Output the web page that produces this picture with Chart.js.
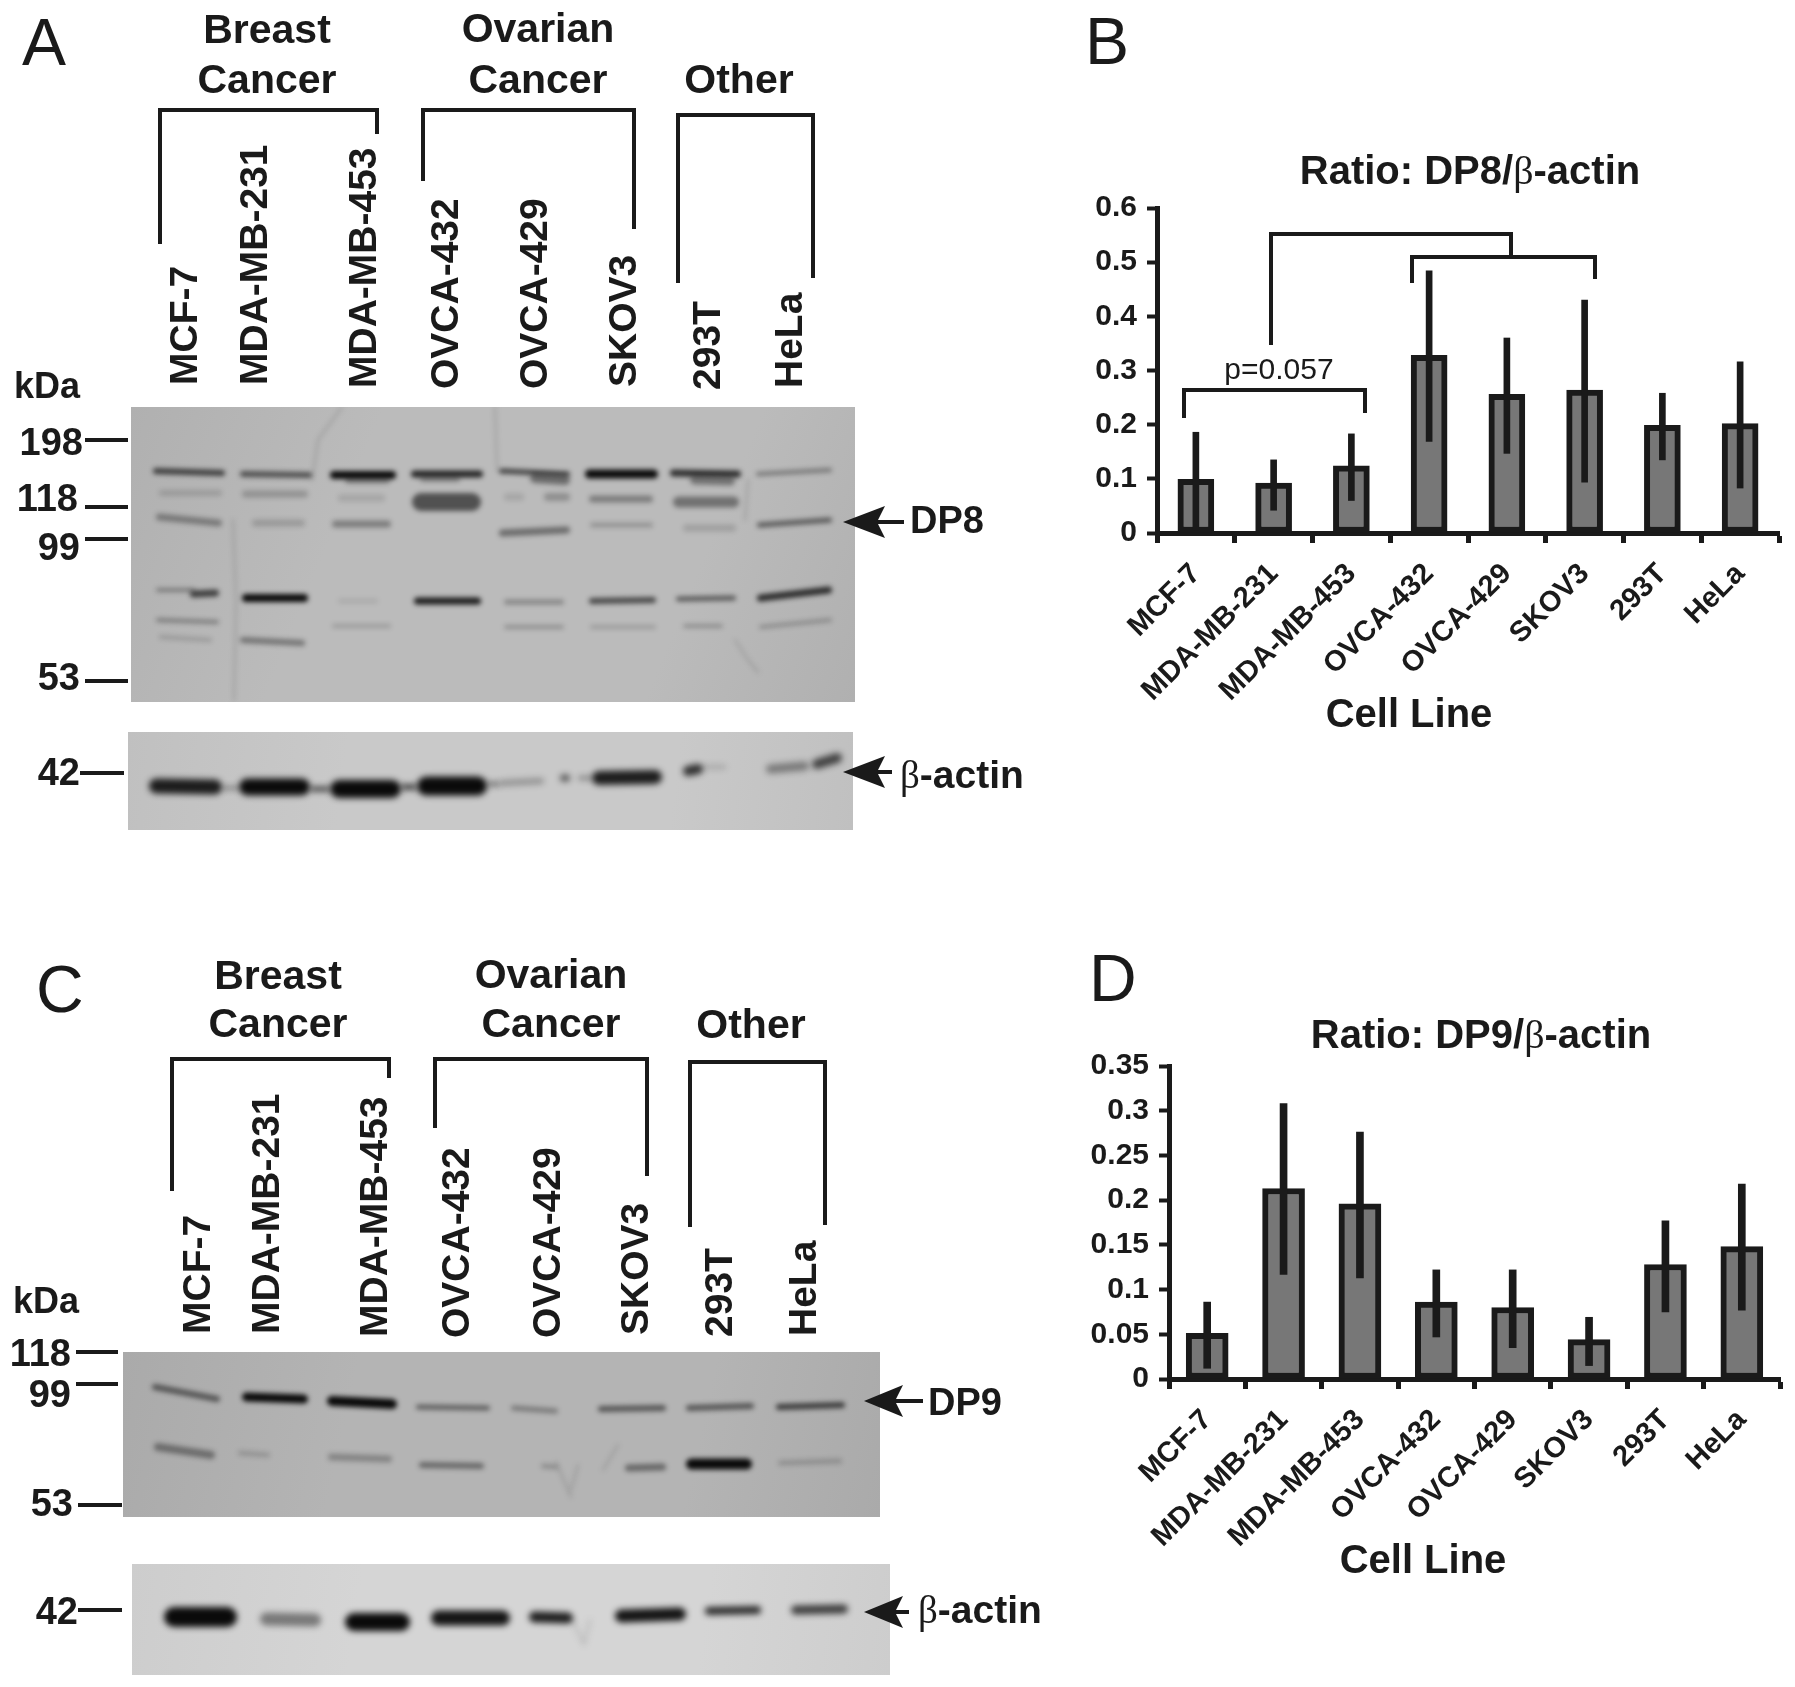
<!DOCTYPE html>
<html>
<head>
<meta charset="utf-8">
<title>DP8 and DP9 in cell lines</title>
<script src="https://cdn.jsdelivr.net/npm/chart.js@4"></script>
<style>
  html, body { margin: 0; padding: 0; background: #fff; }
  #page { position: relative; width: 1795px; height: 1687px; overflow: hidden; }
  #page canvas { position: absolute; }
  .t { position: absolute; white-space: nowrap; line-height: 0; color: #1a1a1a;
       font-family: "Liberation Sans", Arial, sans-serif; font-weight: bold; transform-origin: 0 0; }
  .beta { font-family: "Liberation Serif", serif; font-weight: normal; }
</style>
</head>
<body>
<div id="page">
  <canvas id="blots" width="1795" height="1687" style="left:0;top:0"></canvas>
  <canvas id="chartB" width="755" height="640" style="left:1040px;top:150px"></canvas>
  <canvas id="chartD" width="755" height="687" style="left:1040px;top:1000px"></canvas>
</div>

<script>
// Chart values
const cellLines = ['MCF-7', 'MDA-MB-231', 'MDA-MB-453', 'OVCA-432', 'OVCA-429', 'SKOV3', '293T', 'HeLa'];

const dp8Ratio = [0.099, 0.092, 0.124, 0.328, 0.256, 0.264, 0.199, 0.202];
const dp8ErrTop = [0.186, 0.135, 0.183, 0.484, 0.360, 0.430, 0.258, 0.316];
const dp8ErrBottom = [0.006, 0.042, 0.060, 0.169, 0.147, 0.094, 0.135, 0.083];
const dp8Ticks = ['0', '0.1', '0.2', '0.3', '0.4', '0.5', '0.6'];

const dp9Ratio = [0.051, 0.213, 0.196, 0.086, 0.080, 0.044, 0.128, 0.148];
const dp9ErrTop = [0.086, 0.308, 0.276, 0.122, 0.122, 0.069, 0.177, 0.218];
const dp9ErrBottom = [0.012, 0.117, 0.113, 0.047, 0.035, 0.015, 0.075, 0.077];
const dp9Ticks = ['0', '0.05', '0.1', '0.15', '0.2', '0.25', '0.3', '0.35'];

// Blot bands: x start, x end, y start, y end, thickness, darkness
const bandsDP8 = [
  [153,225,471,473,6,.7],[240,312,474,475,6,.6],[330,396,475,475,8,1],[345,390,480,480,7,.35],[411,483,474,474,7,.85],[420,460,479,479,6,.3],
  [499,570,471,474,5,.7],[530,570,478,480,10,.45],[585,658,474,474,9,1],[670,741,473,474,7,.8],[690,735,480,481,9,.4],[756,832,474,470,4,.4],
  [159,222,493,493,6,.15],[242,308,494,494,7,.22],[338,385,498,498,7,.12],[412,481,502,502,18,.6],[544,570,497,497,8,.25],[504,524,497,497,7,.12],[589,653,499,499,7,.35],[673,739,502,502,11,.42],
  [156,222,517,523,7,.35],[252,305,523,523,7,.18],[332,391,524,524,7,.35],[499,570,533,530,7,.45],[590,653,525,525,5,.22],[683,736,528,528,7,.15],[757,832,525,520,5,.55],
  [156,195,590,590,4,.35],[190,219,594,593,7,.7],[242,308,598,598,8,1],[338,378,601,601,4,.1],[414,481,601,601,7,.9],[504,564,602,602,5,.3],[589,656,601,600,6,.65],[676,736,599,598,5,.55],[757,832,598,590,7,.8],
  [156,219,620,622,4,.35],[332,391,626,626,4,.18],[504,564,627,627,4,.25],[590,656,627,627,4,.18],[683,723,626,626,4,.25],[759,832,627,620,4,.25],
  [159,212,637,640,4,.18],[240,305,640,643,6,.4]
];
const bandsActinA = [
  [149,222,786,787,15,.9],[222,239,788,788,3,.5],[239,310,787,787,17,1],[310,330,789,789,5,.7],[330,401,789,789,18,1],[401,417,787,787,6,.7],[417,487,786,786,19,1],
  [487,500,784,784,5,.45],[500,544,783,781,6,.3],[560,570,778,778,7,.6],[578,592,778,778,4,.4],[592,662,778,777,14,.9],[683,703,771,769,10,.8],[703,726,767,767,4,.2],[766,809,769,766,9,.4],[812,842,764,758,10,.7]
];
const bandsDP9 = [
  [152,220,1387,1399,6,.55],[242,308,1397,1399,9,1],[327,397,1401,1404,10,1],[416,490,1407,1408,5,.5],[511,558,1408,1411,5,.35],[598,666,1409,1408,6,.55],[686,754,1408,1406,6,.55],[776,845,1407,1405,6,.7],
  [154,215,1447,1455,8,.4],[238,270,1453,1455,5,.18],[328,392,1457,1459,7,.28],[419,484,1465,1466,6,.45],[541,558,1466,1467,5,.22],[625,666,1468,1467,7,.45],[686,752,1464,1464,11,1],[778,842,1463,1461,5,.2]
];
const bandsActinC = [
  [164,237,1617,1617,20,1],[260,321,1619,1620,13,.45],[345,410,1622,1622,18,1],[431,510,1618,1618,15,.95],[529,573,1617,1618,11,.9],[615,686,1616,1614,13,.95],[705,761,1611,1610,8,.85],[791,848,1610,1609,9,.75]
];
// faint scratches on the film: x, y pairs
const marksDP8 = [[[342,407],[318,440],[312,480]], [[233,520],[236,600],[234,700]], [[495,407],[497,470]], [[748,480],[745,520]], [[735,640],[748,660],[758,672]]];
const marksDP9 = [[[556,1462],[571,1497]], [[578,1465],[571,1490]], [[603,1470],[618,1445]]];
const marksActinC = [[[572,1620],[584,1644],[590,1620]]];

const ink = '#1a1a1a';
const page = document.getElementById('page');

// Text helper: y is the middle of the capitals because line-height is 0
function addText(html, x, y, size, opts) {
  opts = opts || {};
  const el = document.createElement('div');
  el.className = 't';
  el.innerHTML = html;
  el.style.left = x + 'px';
  el.style.top = y + 'px';
  el.style.fontSize = size + 'px';
  if (opts.regular) el.style.fontWeight = 'normal';
  if (opts.rotate) el.style.transform = 'rotate(-90deg)';
  if (opts.center) el.style.transform = 'translateX(-50%)';
  if (opts.right) el.style.transform = 'translateX(-100%)';
  page.appendChild(el);
}

function drawGel(ctx, box, base, edge, bands, blur, marks) {
  const [x0, x1, y0, y1] = box;
  ctx.save();
  ctx.beginPath();
  ctx.rect(x0, y0, x1 - x0, y1 - y0);
  ctx.clip();
  const g = ctx.createLinearGradient(x0, y0, x1, y1);
  g.addColorStop(0, edge);
  g.addColorStop(0.3, base);
  g.addColorStop(0.75, base);
  g.addColorStop(1, edge);
  ctx.fillStyle = g;
  ctx.fillRect(x0, y0, x1 - x0, y1 - y0);
  ctx.filter = 'blur(' + blur + 'px)';
  ctx.lineCap = 'round';
  (marks || []).forEach(m => {
    ctx.strokeStyle = 'rgba(70,70,70,0.25)';
    ctx.lineWidth = 2;
    ctx.beginPath();
    m.forEach((p, i) => i ? ctx.lineTo(p[0], p[1]) : ctx.moveTo(p[0], p[1]));
    ctx.stroke();
  });
  bands.forEach(b => {
    const inset = b[4] / 2;
    ctx.strokeStyle = 'rgba(10,10,10,' + b[5] + ')';
    ctx.lineWidth = b[4];
    ctx.beginPath();
    ctx.moveTo(b[0] + inset, b[2]);
    ctx.lineTo(b[1] - inset, b[3]);
    ctx.stroke();
  });
  ctx.restore();
}

function drawLines(ctx, pts, width) {
  ctx.strokeStyle = ink;
  ctx.lineWidth = width;
  ctx.beginPath();
  pts.forEach((p, i) => i ? ctx.lineTo(p[0], p[1]) : ctx.moveTo(p[0], p[1]));
  ctx.stroke();
}

function drawBracket(ctx, x0, x1, top, leftEnd, rightEnd, width) {
  drawLines(ctx, [[x0, leftEnd], [x0, top], [x1, top], [x1, rightEnd]], width);
}

function drawArrow(ctx, tip, head, tail, y) {
  drawLines(ctx, [[head - 8, y], [tail, y]], 4);
  ctx.fillStyle = ink;
  ctx.beginPath();
  ctx.moveTo(tip, y);
  ctx.lineTo(head, y - 16);
  ctx.lineTo(head - 8, y);
  ctx.lineTo(head, y + 16);
  ctx.closePath();
  ctx.fill();
}

function drawBlotPanels() {
  const ctx = document.getElementById('blots').getContext('2d');

  drawGel(ctx, [131, 855, 407, 702], '#bbbbbb', '#b0b0b0', bandsDP8, 2.6, marksDP8);
  drawGel(ctx, [128, 853, 732, 830], '#c9c9c9', '#c0c0c0', bandsActinA, 3);
  drawGel(ctx, [123, 880, 1352, 1517], '#b4b4b4', '#aaaaaa', bandsDP9, 2.6, marksDP9);
  drawGel(ctx, [132, 890, 1564, 1675], '#d5d5d5', '#cdcdcd', bandsActinC, 3, marksActinC);

  // bracket lines over the lanes
  drawBracket(ctx, 160, 377, 110, 244, 134, 4);
  drawBracket(ctx, 423, 634, 110, 181, 229, 4);
  drawBracket(ctx, 678, 813, 115, 283, 278, 4);
  drawBracket(ctx, 172, 389, 1059, 1191, 1078, 4);
  drawBracket(ctx, 435, 647, 1059, 1128, 1176, 4);
  drawBracket(ctx, 690, 825, 1062, 1227, 1225, 4);

  // significance brackets of panel B
  drawBracket(ctx, 1271, 1511, 234, 345, 256, 4);
  drawBracket(ctx, 1412, 1595, 257, 283, 279, 4);
  drawBracket(ctx, 1184, 1365, 390, 418, 413, 4);

  // size markers
  [[85, 128, 440], [85, 128, 507], [85, 128, 539], [85, 128, 681], [80, 124, 773],
   [76, 118, 1352], [76, 118, 1384], [78, 122, 1505], [78, 122, 1610]].forEach(m => {
    drawLines(ctx, [[m[0], m[2]], [m[1], m[2]]], 4);
  });

  drawArrow(ctx, 843, 885, 904, 522);
  drawArrow(ctx, 843, 885, 892, 772);
  drawArrow(ctx, 864, 903, 923, 1401);
  drawArrow(ctx, 864, 903, 909, 1612);
}

function drawBlotText() {
  addText('A', 22, 42, 66, { regular: true });
  addText('B', 1085, 41, 66, { regular: true });
  addText('C', 36, 989, 66, { regular: true });
  addText('D', 1089, 978, 66, { regular: true });

  addText('Breast', 267, 29, 41, { center: true });
  addText('Cancer', 267, 79, 41, { center: true });
  addText('Ovarian', 538, 28, 41, { center: true });
  addText('Cancer', 538, 79, 41, { center: true });
  addText('Other', 739, 79, 41, { center: true });

  addText('Breast', 278, 975, 41, { center: true });
  addText('Cancer', 278, 1023, 41, { center: true });
  addText('Ovarian', 551, 974, 41, { center: true });
  addText('Cancer', 551, 1023, 41, { center: true });
  addText('Other', 751, 1024, 41, { center: true });

  const laneXA = [184, 254, 363, 445, 534, 623, 707, 789];
  const laneYA = [385, 385, 388, 389, 389, 387, 390, 388];
  const laneXC = [197, 266, 374, 456, 547, 635, 719, 803];
  const laneYC = [1334, 1334, 1337, 1338, 1338, 1335, 1337, 1336];
  cellLines.forEach((name, i) => {
    addText(name, laneXA[i], laneYA[i], 39, { rotate: true });
    addText(name, laneXC[i], laneYC[i], 39, { rotate: true });
  });

  addText('kDa', 14, 386, 36);
  addText('kDa', 13, 1301, 36);

  [['198', 83, 442], ['118', 78, 498], ['99', 80, 547], ['53', 80, 677], ['42', 80, 772]].forEach(m => {
    addText(m[0], m[1], m[2], 38, { right: true });
  });
  [['118', 71, 1353], ['99', 71, 1394], ['53', 73, 1503], ['42', 78, 1611]].forEach(m => {
    addText(m[0], m[1], m[2], 38, { right: true });
  });

  addText('DP8', 910, 520, 38);
  addText('DP9', 928, 1402, 38);
  addText('<span class="beta">β</span>-actin', 900, 775, 39);
  addText('<span class="beta">β</span>-actin', 918, 1610, 39);

  // panel titles and axis names
  addText('Ratio: DP8/<span class="beta">β</span>-actin', 1470, 170, 40, { center: true });
  addText('Ratio: DP9/<span class="beta">β</span>-actin', 1481, 1034, 40, { center: true });
  addText('Cell Line', 1409, 713, 40, { center: true });
  addText('Cell Line', 1423, 1559, 40, { center: true });
  addText('p=0.057', 1279, 369, 30, { center: true, regular: true });
}

function barChart(id, values, errTop, errBottom, tickLabels, yMax, step, layout) {
  const errors = values.map((v, i) => [errBottom[i], errTop[i]]);
  return new Chart(document.getElementById(id).getContext('2d'), {
    type: 'bar',
    data: {
      labels: cellLines,
      datasets: [{
        data: errors,
        grouped: false,
        order: 0,
        barThickness: layout.errWidth,
        backgroundColor: ink,
        borderWidth: 0
      }, {
        data: values,
        grouped: false,
        order: 1,
        barThickness: layout.barWidth,
        backgroundColor: '#777777',
        borderColor: ink,
        borderWidth: 6,
        borderSkipped: false
      }]
    },
    options: {
      responsive: false,
      animation: false,
      layout: { padding: { top: layout.top, right: layout.right, left: 0, bottom: 0 } },
      plugins: { legend: { display: false }, tooltip: { enabled: false } },
      scales: {
        x: {
          afterFit: s => { s.height = layout.xHeight; },
          grid: { drawOnChartArea: false, offset: true, tickLength: 10, tickWidth: 5, tickColor: ink },
          border: { color: ink, width: 5 },
          ticks: {
            color: ink,
            autoSkip: false,
            minRotation: 45,
            maxRotation: 45,
            padding: 14,
            font: { family: '"Liberation Sans"', weight: 'bold', size: 29 }
          }
        },
        y: {
          min: 0,
          max: yMax,
          afterFit: s => { s.width = layout.yWidth; },
          grid: { drawOnChartArea: false, tickLength: 10, tickWidth: 4, tickColor: ink },
          border: { color: ink, width: 5 },
          ticks: {
            color: ink,
            stepSize: step,
            padding: 10,
            callback: (v, i) => tickLabels[i],
            font: { family: '"Liberation Sans"', weight: 'bold', size: 30 }
          }
        }
      }
    }
  });
}

drawBlotPanels();
drawBlotText();
barChart('chartB', dp8Ratio, dp8ErrTop, dp8ErrBottom, dp8Ticks, 0.6, 0.1,
  { top: 58, right: 16, yWidth: 117, xHeight: 257, barWidth: 36, errWidth: 6 });
barChart('chartD', dp9Ratio, dp9ErrTop, dp9ErrBottom, dp9Ticks, 0.35, 0.05,
  { top: 66, right: 15, yWidth: 129, xHeight: 308, barWidth: 42, errWidth: 7 });
</script>
</body>
</html>
